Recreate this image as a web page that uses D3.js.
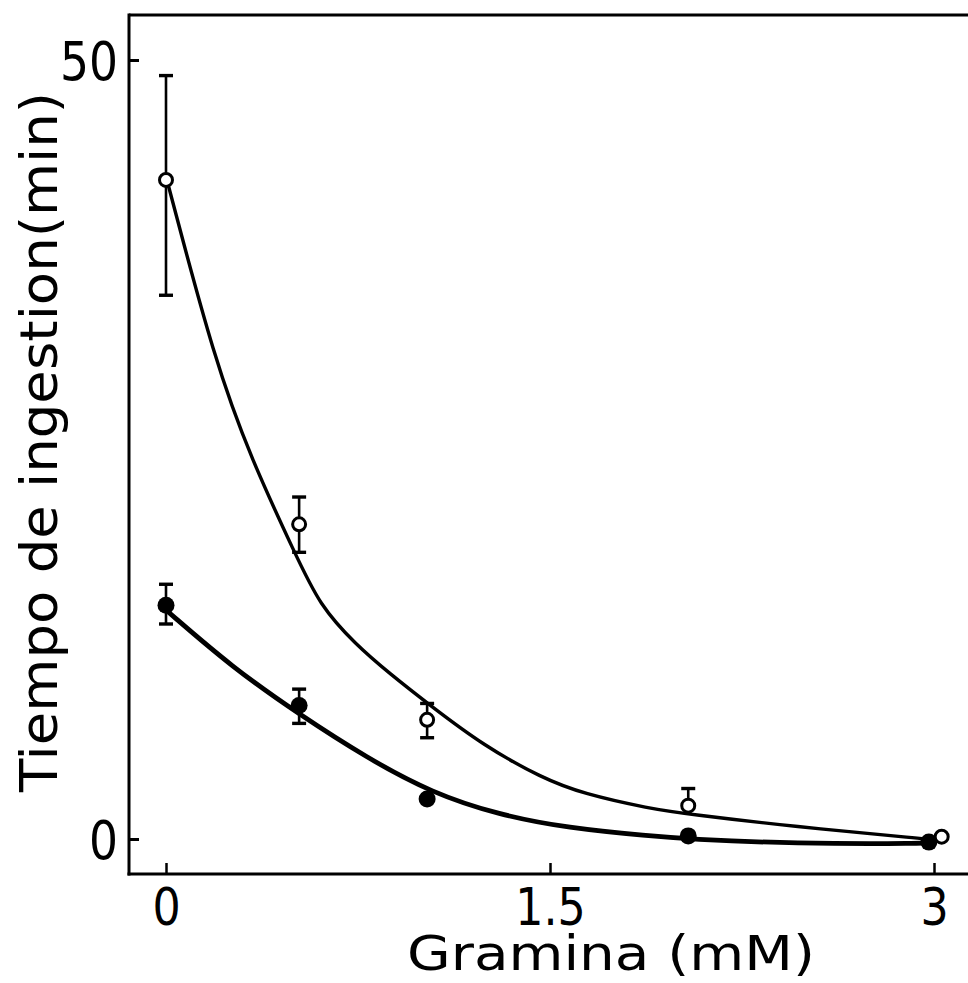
<!DOCTYPE html>
<html>
<head>
<meta charset="utf-8">
<script src="https://cdn.jsdelivr.net/npm/d3@7"></script>
<style>
  html, body { margin: 0; padding: 0; background: #fff; }
  svg { display: block; }
  text { font-family: "DejaVu Sans", "Liberation Sans", sans-serif; fill: #000; }
</style>
</head>
<body>
<svg id="chart" width="968" height="983"></svg>
<script>
// ---- Data ----
const xTicks = [0, 1.5, 3];
const xTickLabels = ["0", "1.5", "3"];
const yTicks = [0, 50];
const yTickLabels = ["0", "50"];
const xTitle = "Gramina (mM)";
const yTitle = "Tiempo de ingestion(min)";

// open circles: concentration, mean, upper error, lower error
const openX    = [0, 0.52, 1.02, 2.04, 3.03];
const openY    = [42.3, 20.2, 7.65, 2.14, 0.15];
const openErrUp   = [6.7, 1.75, 1.05, 1.1, 0];
const openErrDown = [7.4, 1.8, 1.15, 0, 0];

// filled circles
const filledX  = [0, 0.52, 1.02, 2.04, 2.98];
const filledY  = [15.0, 8.57, 2.57, 0.2, -0.2];
const filledErrUp   = [1.35, 1.05, 0, 0, 0];
const filledErrDown = [1.2, 1.15, 0, 0, 0];

// fitted curves
const openCurveX = [0.01, 0.01, 0.19, 0.335, 0.505, 0.60, 0.74, 0.875, 1.03, 1.24, 1.47, 1.63, 1.89, 2.04, 2.45, 2.97, 3.02, 3.02];
const openCurveY = [41.9, 41.9, 30.7, 24.3, 18.3, 15.0, 12.5, 10.6, 8.6, 6.0, 3.9, 2.9, 1.95, 1.6, 0.8, 0.0, -0.1, -0.1];
const filledCurveX = [0.0, 0.0, 0.26, 0.52, 0.785, 1.04, 1.30, 1.57, 1.89, 2.04, 2.45, 2.97, 3.0, 3.0];
const filledCurveY = [14.7, 14.7, 11.0, 8.0, 5.2, 2.95, 1.55, 0.7, 0.19, 0.0, -0.3, -0.3, -0.2, -0.2];

// ---- Layout ----
const svg = d3.select("#chart");
const frame = { left: 129, top: 15, bottom: 874, right: 968 };

const x = d3.scaleLinear().domain([0, 3]).range([166, 934]);
const y = d3.scaleLinear().domain([0, 50]).range([839, 60]);

// frame lines
svg.append("line").attr("x1", frame.left).attr("x2", frame.right)
  .attr("y1", frame.top).attr("y2", frame.top)
  .attr("stroke", "#000").attr("stroke-width", 3);
svg.append("line").attr("x1", frame.left).attr("x2", frame.left)
  .attr("y1", frame.top - 1.5).attr("y2", frame.bottom + 1.5)
  .attr("stroke", "#000").attr("stroke-width", 3);
svg.append("line").attr("x1", frame.left - 1.5).attr("x2", frame.right)
  .attr("y1", frame.bottom).attr("y2", frame.bottom)
  .attr("stroke", "#000").attr("stroke-width", 3);

// condense glyphs horizontally (reference lettering is narrow)
function condense(sel, k) {
  sel.each(function () {
    const w = this.getComputedTextLength();
    d3.select(this).attr("textLength", w * k).attr("lengthAdjust", "spacingAndGlyphs");
  });
}

// axes
const yAxis = d3.axisLeft(y).tickValues(yTicks)
  .tickFormat((d, i) => yTickLabels[i]).tickSize(-10).tickPadding(11);
const gy = svg.append("g").attr("transform", `translate(${frame.left},0)`).call(yAxis);
gy.select(".domain").remove();
gy.selectAll(".tick line").attr("stroke", "#000").attr("stroke-width", 3);
gy.selectAll(".tick text").attr("font-size", 53).attr("fill", "#000")
  .attr("font-family", null).attr("dy", "0.36em");
condense(gy.selectAll(".tick text"), 0.86);

const xAxis = d3.axisBottom(x).tickValues(xTicks)
  .tickFormat((d, i) => xTickLabels[i]).tickSize(-11).tickPadding(15);
const gx = svg.append("g").attr("transform", `translate(0,${frame.bottom})`).call(xAxis);
gx.select(".domain").remove();
gx.selectAll(".tick line").attr("stroke", "#000").attr("stroke-width", 2.5);
gx.selectAll(".tick text").attr("font-size", 51).attr("fill", "#000")
  .attr("font-family", null);
condense(gx.selectAll(".tick text"), 0.87);

// titles
svg.append("text")
  .attr("x", 611).attr("y", 970)
  .attr("text-anchor", "middle")
  .attr("font-size", 48)
  .attr("textLength", 408).attr("lengthAdjust", "spacingAndGlyphs")
  .text(xTitle);
svg.append("text")
  .attr("transform", "translate(57,442) rotate(-90)")
  .attr("text-anchor", "middle")
  .attr("font-size", 52)
  .attr("textLength", 700).attr("lengthAdjust", "spacingAndGlyphs")
  .text(yTitle);

// curves
const line = d3.line().x(d => x(d[0])).y(d => y(d[1])).curve(d3.curveBasis);
svg.append("path")
  .datum(openCurveX.map((v, i) => [v, openCurveY[i]]))
  .attr("d", line).attr("fill", "none").attr("stroke", "#000").attr("stroke-width", 3.4);
svg.append("path")
  .datum(filledCurveX.map((v, i) => [v, filledCurveY[i]]))
  .attr("d", line).attr("fill", "none").attr("stroke", "#000").attr("stroke-width", 4.8);

// error bars
function errorBars(xs, ys, up, down) {
  const g = svg.append("g");
  xs.forEach((xv, i) => {
    const cx = x(xv);
    if (up[i] > 0) {
      g.append("line").attr("x1", cx).attr("x2", cx)
        .attr("y1", y(ys[i])).attr("y2", y(ys[i] + up[i]))
        .attr("stroke", "#000").attr("stroke-width", 2.6);
      g.append("line").attr("x1", cx - 7).attr("x2", cx + 7)
        .attr("y1", y(ys[i] + up[i])).attr("y2", y(ys[i] + up[i]))
        .attr("stroke", "#000").attr("stroke-width", 3.4);
    }
    if (down[i] > 0) {
      g.append("line").attr("x1", cx).attr("x2", cx)
        .attr("y1", y(ys[i])).attr("y2", y(ys[i] - down[i]))
        .attr("stroke", "#000").attr("stroke-width", 2.6);
      g.append("line").attr("x1", cx - 7).attr("x2", cx + 7)
        .attr("y1", y(ys[i] - down[i])).attr("y2", y(ys[i] - down[i]))
        .attr("stroke", "#000").attr("stroke-width", 3.4);
    }
  });
}
errorBars(openX, openY, openErrUp, openErrDown);
errorBars(filledX, filledY, filledErrUp, filledErrDown);

// points
svg.append("g").selectAll("circle")
  .data(filledX.map((v, i) => [v, filledY[i]]))
  .join("circle")
  .attr("cx", d => x(d[0])).attr("cy", d => y(d[1])).attr("r", 8.5)
  .attr("fill", "#000");
svg.append("g").selectAll("circle")
  .data(openX.map((v, i) => [v, openY[i]]))
  .join("circle")
  .attr("cx", d => x(d[0])).attr("cy", d => y(d[1])).attr("r", 6.5)
  .attr("fill", "#fff").attr("stroke", "#000").attr("stroke-width", 3);
</script>
</body>
</html>
